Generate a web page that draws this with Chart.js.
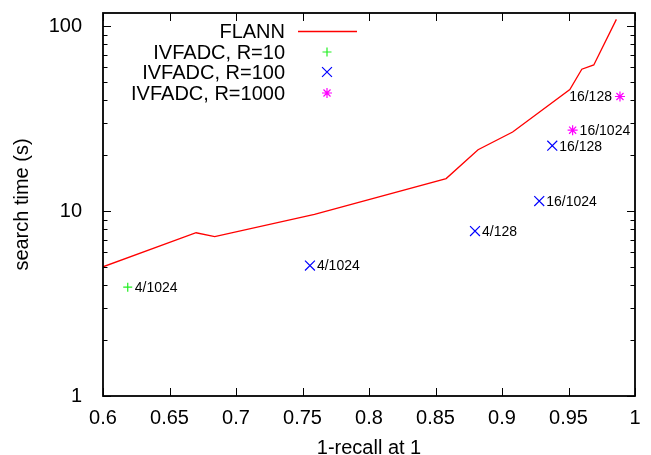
<!DOCTYPE html>
<html lang="en">
<head>
    <meta charset="UTF-8">
    <title>FLANN vs IVFADC search time</title>
    <script src="https://cdn.jsdelivr.net/npm/chart.js"></script>
    <style>
        html, body { margin: 0; padding: 0; background: #fff; }
        #wrap { width: 651px; height: 455px; }
    </style>
</head>
<body>
    <div id="wrap"><canvas id="chart" width="651" height="455"></canvas></div>

    <script>
        // FLANN curve (recall, time)
        const flannRecall = [0.600, 0.670, 0.684, 0.759, 0.858, 0.882, 0.908, 0.951, 0.960, 0.969, 0.986];
        const flannTime = [5.0, 7.64, 7.29, 9.6, 15.0, 21.5, 26.8, 45.5, 58.6, 61.8, 109];

        // IVFADC points
        const r10Recall = [0.6186];
        const r10Time = [3.88];
        const r10Labels = ['4/1024'];

        const r100Recall = [0.7556, 0.8797, 0.928, 0.9378];
        const r100Time = [5.08, 7.8, 11.34, 22.6];
        const r100Labels = ['4/1024', '4/128', '16/1024', '16/128'];

        const r1000Recall = [0.9531, 0.9887];
        const r1000Time = [27.4, 41.7];
        const r1000Labels = ['16/1024', '16/128'];

        // tick values
        const xTicks = [0.6, 0.65, 0.7, 0.75, 0.8, 0.85, 0.9, 0.95, 1.0];
        const yTicks = [1, 10, 100];
        const yMinorTicks = [2, 3, 4, 5, 6, 7, 8, 9, 20, 30, 40, 50, 60, 70, 80, 90];

        const FONT = "'Liberation Sans', Arial, Helvetica, sans-serif";

        function toPoints(xs, ys) {
            return xs.map((x, i) => ({ x: x, y: ys[i] }));
        }

        // labels that sit to the left of their marker
        const leftLabel = { 3: [1] };

        const pointLabels = {
            1: r10Labels,
            2: r100Labels,
            3: r1000Labels
        };

        // gnuplot-like frame, inward ticks, legend and point labels
        const gnuplotDecor = {
            id: 'gnuplotDecor',
            afterDatasetsDraw(chart) {
                const ctx = chart.ctx;
                const area = chart.chartArea;
                const xs = chart.scales.x;
                const ys = chart.scales.y;

                ctx.save();
                ctx.strokeStyle = '#000';

                // ticks
                ctx.lineWidth = 1;
                const major = 8, minor = 4.5;
                ctx.beginPath();
                xTicks.forEach(v => {
                    const px = Math.round(xs.getPixelForValue(v)) + 0.5;
                    ctx.moveTo(px, area.bottom); ctx.lineTo(px, area.bottom - major);
                    ctx.moveTo(px, area.top); ctx.lineTo(px, area.top + major);
                });
                yTicks.forEach(v => {
                    const py = Math.round(ys.getPixelForValue(v)) + 0.5;
                    ctx.moveTo(area.left, py); ctx.lineTo(area.left + major, py);
                    ctx.moveTo(area.right, py); ctx.lineTo(area.right - major, py);
                });
                yMinorTicks.forEach(v => {
                    const py = Math.round(ys.getPixelForValue(v)) + 0.5;
                    ctx.moveTo(area.left, py); ctx.lineTo(area.left + minor, py);
                    ctx.moveTo(area.right, py); ctx.lineTo(area.right - minor, py);
                });
                ctx.stroke();

                // frame
                ctx.lineWidth = 1.8;
                ctx.strokeRect(area.left, area.top, area.right - area.left, area.bottom - area.top);

                // point labels
                ctx.fillStyle = '#000';
                ctx.font = '14px ' + FONT;
                ctx.textBaseline = 'middle';
                Object.keys(pointLabels).forEach(di => {
                    const meta = chart.getDatasetMeta(+di);
                    const labels = pointLabels[di];
                    meta.data.forEach((el, j) => {
                        const left = (leftLabel[di] || []).includes(j);
                        ctx.textAlign = left ? 'right' : 'left';
                        ctx.fillText(labels[j], el.x + (left ? -8 : 7), el.y + 1);
                    });
                });

                // legend
                const textRight = 285, sx0 = 298, sx1 = 357, rowY = [31, 52, 72, 93];
                ctx.font = '20px ' + FONT;
                ctx.textAlign = 'right';
                chart.data.datasets.forEach((ds, i) => {
                    const y = rowY[i];
                    ctx.fillStyle = '#000';
                    ctx.fillText(ds.label, textRight, y + 1);
                    ctx.strokeStyle = ds.borderColor;
                    ctx.fillStyle = ds.borderColor;
                    if (ds.showLine) {
                        ctx.lineWidth = ds.borderWidth;
                        ctx.beginPath();
                        ctx.moveTo(sx0, y + 0.5); ctx.lineTo(sx1, y + 0.5);
                        ctx.stroke();
                    } else {
                        ctx.lineWidth = ds.pointBorderWidth;
                        Chart.helpers.drawPoint(ctx, {
                            pointStyle: ds.pointStyle,
                            radius: ds.pointRadius,
                            borderWidth: ds.pointBorderWidth,
                            rotation: 0
                        }, 327, y);
                    }
                });
                ctx.restore();
            }
        };

        const ctx = document.getElementById('chart').getContext('2d');
        new Chart(ctx, {
            type: 'scatter',
            data: {
                datasets: [
                    {
                        label: 'FLANN',
                        data: toPoints(flannRecall, flannTime),
                        showLine: true,
                        borderColor: '#ff0000',
                        borderWidth: 1.3,
                        pointRadius: 0,
                        fill: false,
                        tension: 0
                    },
                    {
                        label: 'IVFADC, R=10',
                        data: toPoints(r10Recall, r10Time),
                        showLine: false,
                        pointStyle: 'cross',
                        pointRadius: 4.5,
                        pointBorderWidth: 1.2,
                        borderColor: '#22ee22',
                        backgroundColor: '#22ee22'
                    },
                    {
                        label: 'IVFADC, R=100',
                        data: toPoints(r100Recall, r100Time),
                        showLine: false,
                        pointStyle: 'crossRot',
                        pointRadius: 7,
                        pointBorderWidth: 1.2,
                        borderColor: '#0000ff',
                        backgroundColor: '#0000ff'
                    },
                    {
                        label: 'IVFADC, R=1000',
                        data: toPoints(r1000Recall, r1000Time),
                        showLine: false,
                        pointStyle: 'star',
                        pointRadius: 5,
                        pointBorderWidth: 1.2,
                        borderColor: '#ff00ff',
                        backgroundColor: '#ff00ff'
                    }
                ]
            },
            options: {
                responsive: false,
                animation: false,
                devicePixelRatio: 1,
                layout: { padding: { left: 0, right: 16, top: 13, bottom: 0 } },
                plugins: {
                    legend: { display: false },
                    tooltip: { enabled: false }
                },
                scales: {
                    x: {
                        type: 'linear',
                        min: 0.6,
                        max: 1.0,
                        grid: { display: false },
                        border: { display: false },
                        afterBuildTicks: s => { s.ticks = xTicks.map(v => ({ value: v })); },
                        afterFit: s => { s.height = 59; s.paddingLeft = 0; s.paddingRight = 0; },
                        ticks: {
                            padding: 2,
                            color: '#000',
                            font: { family: FONT, size: 20 },
                            maxRotation: 0,
                            callback: v => String(parseFloat(v.toFixed(2)))
                        },
                        title: {
                            display: true,
                            text: '1-recall at 1',
                            color: '#000',
                            padding: { top: 0, bottom: -3 },
                            font: { family: FONT, size: 20, lineHeight: 1 }
                        }
                    },
                    y: {
                        type: 'logarithmic',
                        min: 1,
                        max: 118,
                        grid: { display: false },
                        border: { display: false },
                        afterBuildTicks: s => { s.ticks = yTicks.map(v => ({ value: v })); },
                        afterFit: s => { s.width = 103; s.paddingTop = 0; s.paddingBottom = 0; },
                        ticks: {
                            padding: 13,
                            color: '#000',
                            font: { family: FONT, size: 20 },
                            callback: v => String(v)
                        },
                        title: {
                            display: true,
                            text: 'search time (s)',
                            color: '#000',
                            padding: { top: 12, bottom: 0 },
                            font: { family: FONT, size: 20, lineHeight: 1 }
                        }
                    }
                }
            },
            plugins: [gnuplotDecor]
        });
    </script>
</body>
</html>
